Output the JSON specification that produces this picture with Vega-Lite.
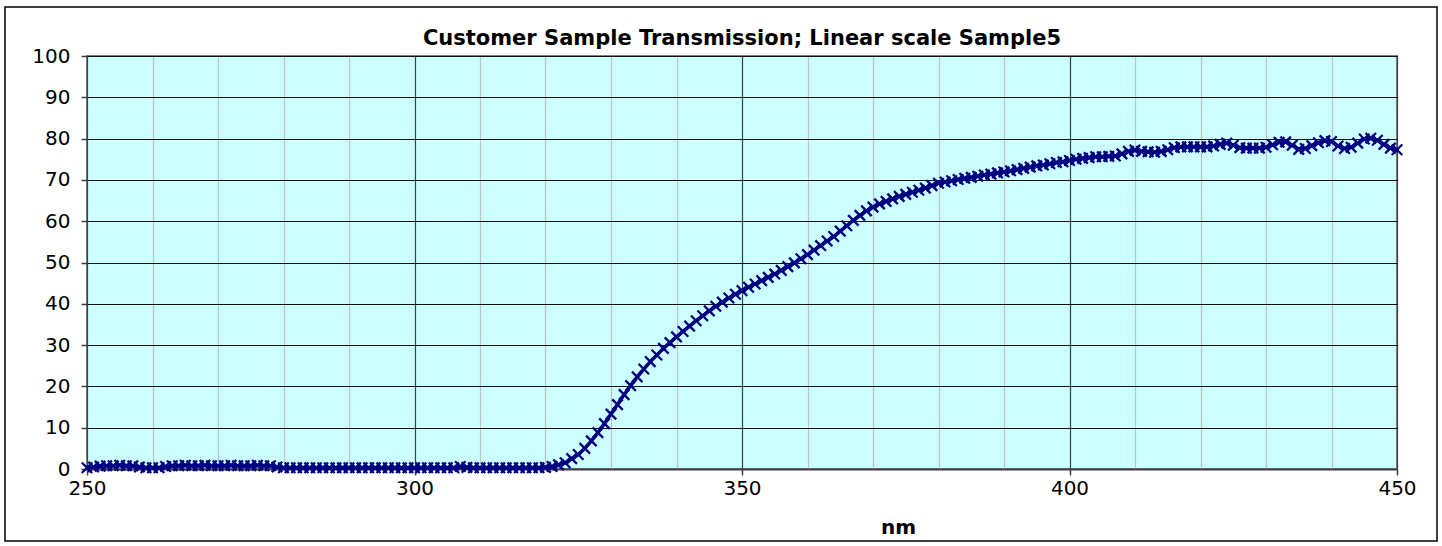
{
  "$schema": "https://vega.github.io/schema/vega-lite/v6.json",
  "width": 1310,
  "height": 413,
  "autosize": {"type": "none"},
  "padding": {"left": 87, "top": 56, "right": 45, "bottom": 77},
  "background": "white",
  "config": {
    "view": {"fill": "#CCFFFF", "stroke": "#808080", "strokeWidth": 2},
    "font": "DejaVu Sans"
  },
  "title": {
    "text": "Customer Sample Transmission; Linear scale Sample5",
    "font": "DejaVu Sans",
    "fontSize": 21,
    "fontWeight": "bold",
    "color": "black",
    "anchor": "middle",
    "offset": 10,
    "dy": 53
  },
  "datasets": {
    "frame": [{"x0": 237.48, "x1": 456.11, "y0": 111.86, "y1": -17.43}],
    "spectrum": [
      {"nm":250,"T":0.3},{"nm":251,"T":0.5},{"nm":252,"T":0.7},{"nm":253,"T":0.8},{"nm":254,"T":0.8},{"nm":255,"T":0.9},{"nm":256,"T":0.8},{"nm":257,"T":0.8},{"nm":258,"T":0.5},{"nm":259,"T":0.3},
      {"nm":260,"T":0.3},{"nm":261,"T":0.3},{"nm":262,"T":0.6},{"nm":263,"T":0.8},{"nm":264,"T":0.8},{"nm":265,"T":0.9},{"nm":266,"T":0.8},{"nm":267,"T":0.8},{"nm":268,"T":0.9},{"nm":269,"T":0.8},
      {"nm":270,"T":0.8},{"nm":271,"T":0.8},{"nm":272,"T":0.9},{"nm":273,"T":0.8},{"nm":274,"T":0.8},{"nm":275,"T":0.8},{"nm":276,"T":0.9},{"nm":277,"T":0.8},{"nm":278,"T":0.8},{"nm":279,"T":0.5},
      {"nm":280,"T":0.3},{"nm":281,"T":0.3},{"nm":282,"T":0.3},{"nm":283,"T":0.3},{"nm":284,"T":0.3},{"nm":285,"T":0.3},{"nm":286,"T":0.3},{"nm":287,"T":0.3},{"nm":288,"T":0.3},{"nm":289,"T":0.3},
      {"nm":290,"T":0.3},{"nm":291,"T":0.3},{"nm":292,"T":0.3},{"nm":293,"T":0.3},{"nm":294,"T":0.3},{"nm":295,"T":0.3},{"nm":296,"T":0.3},{"nm":297,"T":0.3},{"nm":298,"T":0.3},{"nm":299,"T":0.3},
      {"nm":300,"T":0.3},{"nm":301,"T":0.3},{"nm":302,"T":0.3},{"nm":303,"T":0.3},{"nm":304,"T":0.3},{"nm":305,"T":0.3},{"nm":306,"T":0.3},{"nm":307,"T":0.6},{"nm":308,"T":0.4},{"nm":309,"T":0.3},
      {"nm":310,"T":0.3},{"nm":311,"T":0.3},{"nm":312,"T":0.3},{"nm":313,"T":0.3},{"nm":314,"T":0.3},{"nm":315,"T":0.3},{"nm":316,"T":0.3},{"nm":317,"T":0.3},{"nm":318,"T":0.3},{"nm":319,"T":0.3},
      {"nm":320,"T":0.4},{"nm":321,"T":0.6},{"nm":322,"T":1.0},{"nm":323,"T":1.5},{"nm":324,"T":2.5},{"nm":325,"T":3.5},{"nm":326,"T":5.0},{"nm":327,"T":6.8},{"nm":328,"T":8.8},{"nm":329,"T":11.0},
      {"nm":330,"T":13.3},{"nm":331,"T":15.6},{"nm":332,"T":18.0},{"nm":333,"T":20.2},{"nm":334,"T":22.3},{"nm":335,"T":24.2},{"nm":336,"T":26.0},{"nm":337,"T":27.6},{"nm":338,"T":29.2},{"nm":339,"T":30.6},
      {"nm":340,"T":32.0},{"nm":341,"T":33.3},{"nm":342,"T":34.6},{"nm":343,"T":35.9},{"nm":344,"T":37.1},{"nm":345,"T":38.3},{"nm":346,"T":39.4},{"nm":347,"T":40.4},{"nm":348,"T":41.4},{"nm":349,"T":42.3},
      {"nm":350,"T":43.2},{"nm":351,"T":44.0},{"nm":352,"T":44.8},{"nm":353,"T":45.6},{"nm":354,"T":46.4},{"nm":355,"T":47.2},{"nm":356,"T":48.1},{"nm":357,"T":49.0},{"nm":358,"T":49.9},{"nm":359,"T":50.9},
      {"nm":360,"T":51.9},{"nm":361,"T":53.0},{"nm":362,"T":54.1},{"nm":363,"T":55.2},{"nm":364,"T":56.3},{"nm":365,"T":57.6},{"nm":366,"T":58.9},{"nm":367,"T":60.2},{"nm":368,"T":61.4},{"nm":369,"T":62.5},
      {"nm":370,"T":63.4},{"nm":371,"T":64.2},{"nm":372,"T":64.8},{"nm":373,"T":65.4},{"nm":374,"T":66.0},{"nm":375,"T":66.5},{"nm":376,"T":67.0},{"nm":377,"T":67.5},{"nm":378,"T":68.0},{"nm":379,"T":68.6},
      {"nm":380,"T":69.2},{"nm":381,"T":69.5},{"nm":382,"T":69.8},{"nm":383,"T":70.1},{"nm":384,"T":70.4},{"nm":385,"T":70.6},{"nm":386,"T":70.9},{"nm":387,"T":71.2},{"nm":388,"T":71.4},{"nm":389,"T":71.7},
      {"nm":390,"T":71.9},{"nm":391,"T":72.2},{"nm":392,"T":72.5},{"nm":393,"T":72.8},{"nm":394,"T":73.1},{"nm":395,"T":73.4},{"nm":396,"T":73.6},{"nm":397,"T":73.9},{"nm":398,"T":74.2},{"nm":399,"T":74.4},
      {"nm":400,"T":74.7},{"nm":401,"T":75.0},{"nm":402,"T":75.2},{"nm":403,"T":75.4},{"nm":404,"T":75.6},{"nm":405,"T":75.6},{"nm":406,"T":75.7},{"nm":407,"T":75.8},{"nm":408,"T":76.3},{"nm":409,"T":76.9},
      {"nm":410,"T":77.2},{"nm":411,"T":76.9},{"nm":412,"T":76.8},{"nm":413,"T":76.7},{"nm":414,"T":76.9},{"nm":415,"T":77.3},{"nm":416,"T":77.8},{"nm":417,"T":78.0},{"nm":418,"T":78.0},{"nm":419,"T":78.0},
      {"nm":420,"T":78.0},{"nm":421,"T":78.0},{"nm":422,"T":78.2},{"nm":423,"T":78.6},{"nm":424,"T":78.9},{"nm":425,"T":78.4},{"nm":426,"T":77.8},{"nm":427,"T":77.7},{"nm":428,"T":77.7},{"nm":429,"T":77.7},
      {"nm":430,"T":77.9},{"nm":431,"T":78.5},{"nm":432,"T":79.1},{"nm":433,"T":79.2},{"nm":434,"T":78.4},{"nm":435,"T":77.4},{"nm":436,"T":77.6},{"nm":437,"T":78.3},{"nm":438,"T":79.0},{"nm":439,"T":79.5},
      {"nm":440,"T":79.3},{"nm":441,"T":78.2},{"nm":442,"T":77.6},{"nm":443,"T":77.9},{"nm":444,"T":78.9},{"nm":445,"T":79.9},{"nm":446,"T":80.1},{"nm":447,"T":79.6},{"nm":448,"T":78.6},{"nm":449,"T":77.7},
      {"nm":450,"T":77.3}
    ]
  },
  "layer": [
    {
      "data": {"name": "spectrum"},
      "mark": {"type": "line", "color": "#000080", "strokeWidth": 3.5},
      "encoding": {
        "x": {
          "field": "nm", "type": "quantitative",
          "scale": {"domain": [250, 450], "nice": false, "zero": false},
          "axis": {
            "values": [250, 260, 270, 280, 290, 300, 310, 320, 330, 340, 350, 360, 370, 380, 390, 400, 410, 420, 430, 440, 450],
            "grid": true,
            "gridColor": {"condition": {"test": "datum.value % 50 === 0", "value": "#404040"}, "value": "#C0C0C0"},
            "gridWidth": 1.2,
            "domain": true, "domainColor": "#404040", "domainWidth": 2,
            "ticks": true, "tickColor": "#404040", "tickSize": 6, "tickWidth": 1.5,
            "tickOpacity": {"condition": {"test": "datum.value % 50 === 0", "value": 1}, "value": 0},
            "labelExpr": "datum.value % 50 === 0 ? datum.label : ''",
            "labelFont": "DejaVu Sans", "labelFontSize": 20, "labelColor": "black", "labelPadding": 3,
            "labelOverlap": false, "labelFlush": false,
            "title": "nm", "titleFont": "DejaVu Sans", "titleFontSize": 20, "titleFontWeight": "bold", "titleColor": "black",
            "titleX": 811, "titleY": 58, "titleAlign": "center", "titleBaseline": "middle"
          }
        },
        "y": {
          "field": "T", "type": "quantitative",
          "scale": {"domain": [0, 100], "nice": false},
          "axis": {
            "values": [0, 10, 20, 30, 40, 50, 60, 70, 80, 90, 100],
            "grid": true, "gridColor": "#101010", "gridWidth": 1.2,
            "domain": false,
            "ticks": true, "tickColor": "#404040", "tickSize": 6, "tickWidth": 1.5,
            "labelFont": "DejaVu Sans", "labelFontSize": 20, "labelColor": "black", "labelPadding": 11,
            "title": null
          }
        }
      }
    },
    {
      "data": {"name": "spectrum"},
      "mark": {"type": "point", "shape": "M-1,-1L1,1M-1,1L1,-1", "filled": false, "stroke": "#000080", "strokeWidth": 2.3, "size": 110, "opacity": 1},
      "encoding": {
        "x": {"field": "nm", "type": "quantitative"},
        "y": {"field": "T", "type": "quantitative"}
      }
    },
    {
      "data": {"name": "frame"},
      "mark": {"type": "rect", "fill": null, "stroke": "#000000", "strokeWidth": 1.5},
      "encoding": {
        "x": {"field": "x0", "type": "quantitative"},
        "x2": {"field": "x1"},
        "y": {"field": "y0", "type": "quantitative"},
        "y2": {"field": "y1"}
      }
    }
  ]
}
